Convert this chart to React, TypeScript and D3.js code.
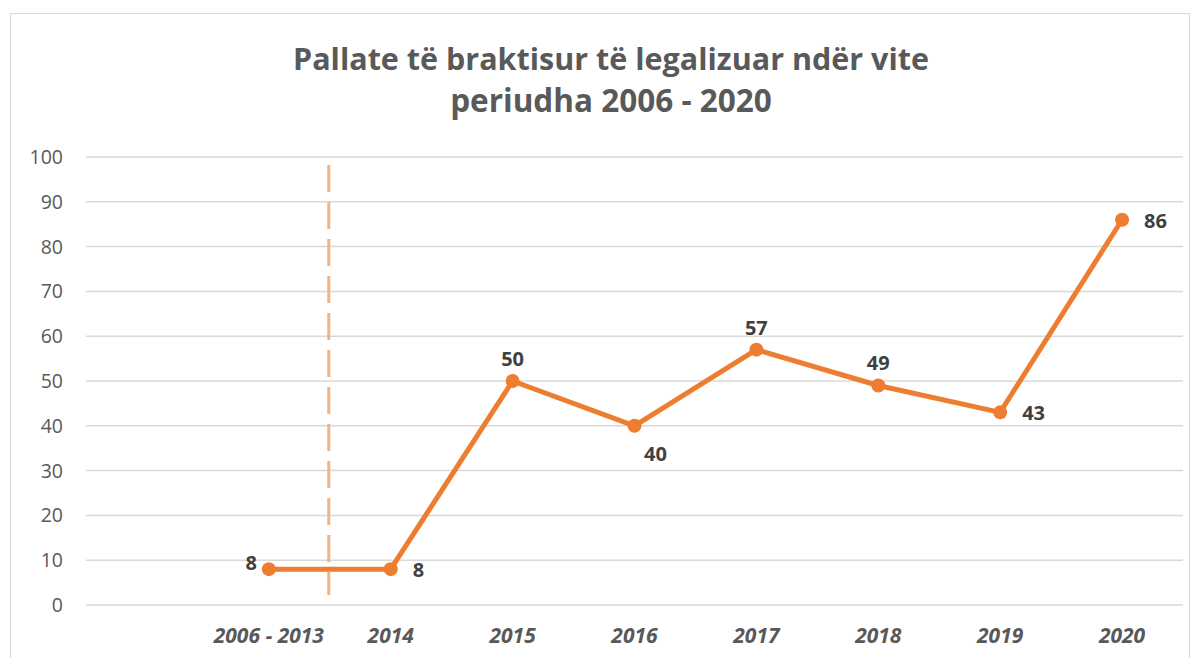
import React from "react";
import * as d3 from "d3";

const categories = ["", "2006 - 2013", "2014", "2015", "2016", "2017", "2018", "2019", "2020"];
const values: (number | null)[] = [null, 8, 8, 50, 40, 57, 49, 43, 86];
const labelPos = ["", "left", "right", "top", "bottom", "top", "top", "right", "right"];
const yTicks = [0, 10, 20, 30, 40, 50, 60, 70, 80, 90, 100];
const titleLines = ["Pallate të braktisur të legalizuar ndër vite", "periudha 2006 - 2020"];

export default function App() {
  const W = 1200, H = 658;
  const left = 86, right = 1183, top = 157, bottom = 605;
  const keys = categories.map((c, i) => i + "|" + c);
  const x = d3.scaleBand<string>().domain(keys).range([left, right]);
  const y = d3.scaleLinear().domain([0, 100]).range([bottom, top]);
  const cx = (i: number) => (x(keys[i]) as number) + x.bandwidth() / 2;
  const pts = values
    .map((v, i) => ({ v, i }))
    .filter((d) => d.v !== null) as { v: number; i: number }[];
  const line = d3
    .line<{ v: number; i: number }>()
    .x((d) => cx(d.i))
    .y((d) => y(d.v));
  const dashX = (x(keys[2]) as number) - 1;
  const font = "'Open Sans', 'Liberation Sans', sans-serif";
  return (
    <svg width={W} height={H} style={{ position: "absolute", left: 0, top: 0, display: "block" }}>
      <rect x={0} y={0} width={W} height={H} fill="#fff" />
      <rect x={10.5} y={13.5} width={1179} height={660} fill="#fff" stroke="#d9d9d9" strokeWidth={1} />
      {titleLines.map((t, i) => (
        <text key={i} x={611} y={70 + i * 42} textAnchor="middle" fontFamily={font} fontWeight={700} fontSize={i === 0 ? 30.5 : 31.5} fill="#595959">
          {t}
        </text>
      ))}
      {yTicks.map((t) => (
        <g key={t}>
          <line x1={left} x2={right} y1={y(t)} y2={y(t)} stroke="#d9d9d9" strokeWidth={1.5} />
          <text x={63} y={y(t) + 7} textAnchor="end" fontFamily={font} fontSize={19.5} fill="#595959">
            {t}
          </text>
        </g>
      ))}
      <line x1={dashX} x2={dashX} y1={165} y2={595} stroke="#F4B183" strokeWidth={3} strokeDasharray="27,10" />
      {categories.map((c, i) => (
        <text key={i} x={cx(i)} y={643} textAnchor="middle" fontFamily={font} fontSize={21} fontWeight={700} fontStyle="italic" fill="#595959">
          {c}
        </text>
      ))}
      <path d={line(pts) || ""} fill="none" stroke="#ED7D31" strokeWidth={5} strokeLinejoin="round" />
      {pts.map((d) => (
        <circle key={d.i} cx={cx(d.i)} cy={y(d.v)} r={7} fill="#ED7D31" />
      ))}
      {pts.map((d) => {
        const p = labelPos[d.i];
        let lx = cx(d.i), ly = y(d.v), anchor = "middle";
        if (p === "left") { lx -= 12; ly += 1; anchor = "end"; }
        else if (p === "right") { lx += 22; ly += 8; anchor = "start"; }
        else if (p === "top") { ly -= 15; }
        else if (p === "bottom") { lx += 21; ly += 35; }
        return (
          <text key={"l" + d.i} x={lx} y={ly} textAnchor={anchor as any} fontFamily={font} fontWeight={700} fontSize={20} fill="#404040">
            {d.v}
          </text>
        );
      })}
    </svg>
  );
}
